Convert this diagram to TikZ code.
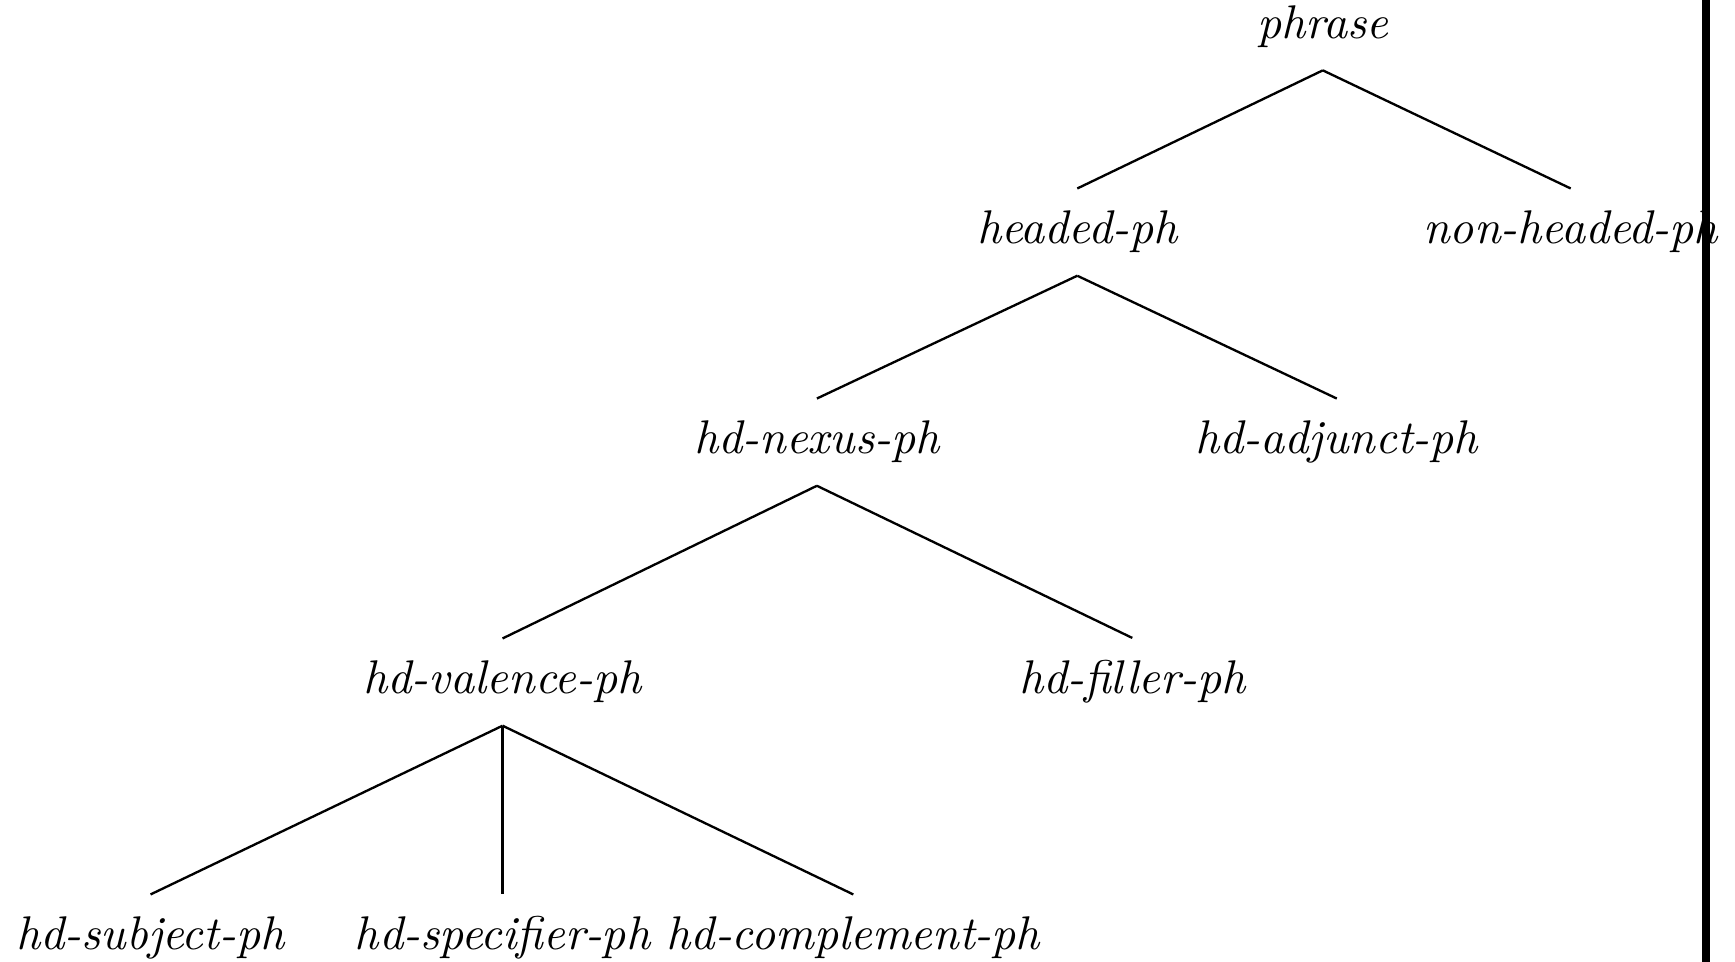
\documentclass[tikz,border=0pt]{standalone}
\usepackage{tikz}
\usetikzlibrary{positioning, calc}

\begin{document}
\begin{tikzpicture}[
    typ/.style={anchor=base, inner xsep=0pt, inner ysep=4.6pt,
      font=\fontsize{10.12pt}{12pt}\selectfont\itshape},
    every path/.style={line width=0.5pt}
  ]
          \useasboundingbox (0,0) rectangle (13.06,-7.24);

          \node[typ] (phrase) at (9.957,-0.290) {phrase};
          \node[typ] (headed) at (8.109,-1.836) {headed-ph};
          \node[typ] (nonheaded) at (11.823,-1.836) {non-headed-ph};
          \node[typ] (nexus) at (6.149,-3.417) {hd-nexus-ph};
          \node[typ] (adjunct) at (10.062,-3.417) {hd-adjunct-ph};
          \node[typ] (valence) at (3.783,-5.223) {hd-valence-ph};
          \node[typ] (filler) at (8.523,-5.223) {hd-filler-ph};
          \node[typ] (subject) at (1.133,-7.150) {hd-subject-ph};
          \node[typ] (specifier) at (3.783,-7.150) {hd-specifier-ph};
          \node[typ] (complement) at (6.423,-7.150) {hd-complement-ph};

          \draw (phrase.south) -- (headed.north);
          \draw (phrase.south) -- (nonheaded.north);
          \draw (headed.south) -- (nexus.north);
          \draw (headed.south) -- (adjunct.north);
          \draw (nexus.south) -- (valence.north);
          \draw (nexus.south) -- (filler.north);
          \draw (valence.south) -- (subject.north);
          \draw (valence.south) -- (specifier.north);
          \draw (valence.south) -- (complement.north);

          \fill (12.810,0) rectangle (12.874,-7.24);
        \end{tikzpicture}
\end{document}
